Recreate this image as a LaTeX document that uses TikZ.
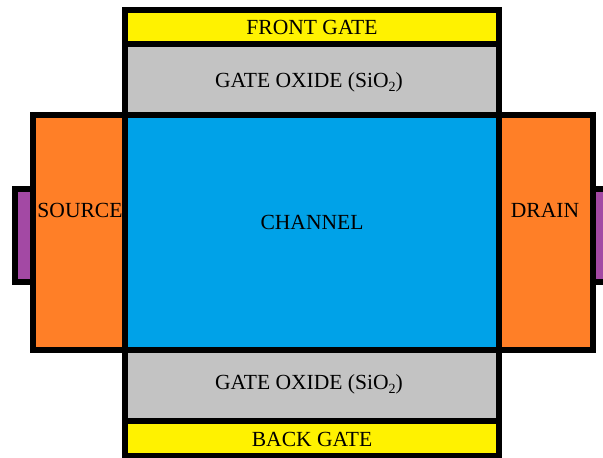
\documentclass[tikz,border=0pt]{standalone}
\usepackage{fontspec}
\setmainfont{Liberation Serif}
\usepackage{tikz}
\definecolor{gateyellow}{HTML}{FFF200}
\definecolor{oxidegray}{HTML}{C3C3C3}
\definecolor{channelblue}{HTML}{00A2E8}
\definecolor{sdorange}{HTML}{FF7F27}
\definecolor{contactpurple}{HTML}{A349A4}
\tikzset{
  layer/.style={draw=black, line width=4.3pt},
  lbl/.style={font=\fontsize{18.4}{20}\selectfont, inner sep=0pt}
}
\newcommand{\sioxide}{SiO\raisebox{-0.45ex}{\fontsize{12}{12}\selectfont 2}}

\begin{document}
\begin{tikzpicture}[x=0.03cm, y=-0.03cm]
    \useasboundingbox (0,0) rectangle (603,458);

    % Metal contacts on the outer sides
    \filldraw[layer, fill=contactpurple] (15,189) rectangle (33,282);
    \filldraw[layer, fill=contactpurple] (593,189) rectangle (611,282);

    % Source and drain
    \filldraw[layer, fill=sdorange] (33,115) rectangle (125,350);
    \filldraw[layer, fill=sdorange] (499,115) rectangle (593,350);

    % Channel in the middle
    \filldraw[layer, fill=channelblue] (125,115) rectangle (499,350);

    % Gate stack on top
    \filldraw[layer, fill=oxidegray] (125,44) rectangle (499,115);
    \filldraw[layer, fill=gateyellow] (125,10) rectangle (499,44);

    % Gate stack below
    \filldraw[layer, fill=oxidegray] (125,350) rectangle (499,421);
    \filldraw[layer, fill=gateyellow] (125,421) rectangle (499,456);

    % Labels
    \node[lbl] (frontgate) at (312,27) {FRONT GATE};
    \node[lbl] (topoxide) at (309,82) {GATE OXIDE (\sioxide)};
    \node[lbl] (channel) at (312,222) {CHANNEL};
    \node[lbl] (source) at (80,210) {SOURCE};
    \node[lbl] (drain) at (545,210) {DRAIN};
    \node[lbl] (botoxide) at (309,384) {GATE OXIDE (\sioxide)};
    \node[lbl] (backgate) at (312,439) {BACK GATE};
\end{tikzpicture}
\end{document}
